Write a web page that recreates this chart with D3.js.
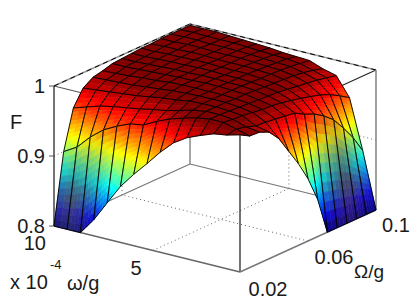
<!DOCTYPE html>
<html>
<head>
<meta charset="utf-8">
<script src="https://cdn.jsdelivr.net/npm/d3@7"></script>
<style>
  html, body { margin: 0; background: #fff; }
  svg { display: block; }
  text { font-family: "Liberation Sans", Arial, sans-serif; fill: #1a1a1a; }
</style>
</head>
<body>
<div id="chart"></div>
<script>
const WIDTH = 415, HEIGHT = 308;

// omega (x 10^-4) runs along rows, Omega along columns
const omegaGrid = [0.6, 1.27, 1.94, 2.61, 3.29, 3.96, 4.63, 5.3, 5.97, 6.64, 7.31, 7.99, 8.66, 9.33, 10];
const bigOmegaGrid = [0.02, 0.0257, 0.0314, 0.0371, 0.0429, 0.0486, 0.0543, 0.06, 0.0657, 0.0714, 0.0771, 0.0829, 0.0886, 0.0943, 0.1];
const fValues = [
  [.996, .988, .987, .981, .965, .941, .917, .889, .853, .800, .800, .800, .800, .800, .800],
  [.991, .993, .990, .985, .984, .982, .980, .978, .970, .964, .955, .943, .925, .905, .880],
  [.988, .998, .996, .995, .993, .991, .990, .988, .985, .982, .978, .974, .968, .960, .951],
  [.981, .998, .998, .997, .996, .995, .994, .993, .992, .990, .988, .986, .984, .981, .978],
  [.973, .995, .998, .998, .998, .997, .997, .996, .995, .994, .993, .992, .990, .987, .983],
  [.961, .990, .995, .998, .998, .998, .998, .998, .997, .996, .996, .995, .994, .992, .990],
  [.943, .984, .990, .997, .998, .998, .999, .998, .998, .998, .997, .996, .995, .994, .991],
  [.922, .976, .985, .994, .997, .998, .999, .999, .998, .998, .998, .997, .996, .995, .992],
  [.902, .966, .982, .992, .996, .998, .998, .999, .999, .998, .998, .998, .997, .996, .994],
  [.880, .963, .978, .989, .994, .997, .998, .998, .999, .999, .998, .998, .998, .997, .995],
  [.852, .955, .975, .986, .992, .995, .997, .998, .998, .999, .999, .998, .998, .998, .996],
  [.823, .945, .972, .984, .990, .994, .996, .997, .998, .998, .999, .999, .998, .998, .997],
  [.800, .930, .968, .982, .989, .992, .995, .996, .997, .998, .998, .999, .999, .998, .998],
  [.800, .911, .962, .980, .988, .991, .994, .995, .996, .997, .998, .998, .999, .999, .998],
  [.800, .900, .956, .978, .987, .990, .994, .995, .996, .997, .997, .998, .998, .998, .998]
];

const omegaTicks = [5, 10];
const bigOmegaTicks = [0.02, 0.06, 0.1];
const fTicks = [0.8, 0.9, 1];

// axes box: floor corner at the front plus one screen vector per axis
const x0 = 240, y0 = 272;
const omegaScale = d3.scaleLinear([0.6, 10], [0, 1]);
const bigOmegaScale = d3.scaleLinear([0.02, 0.1], [0, 1]);
const fScale = d3.scaleLinear([0.8, 1], [0, 140]);

function project(w, o, f) {
  const u = omegaScale(w), v = bigOmegaScale(o);
  return [x0 - 186 * u + 136 * v, y0 - 46 * u - 62 * v - fScale(f)];
}

// MATLAB style jet, 64 levels
function jet(t) {
  const k = Math.round(t * 63) / 63;
  const c = x => Math.round(255 * Math.max(0, Math.min(1, 1.5 - Math.abs(4 * k - x))));
  return [c(3), c(2), c(1)];
}
// top of the map is reached a little under F = 1
const colorScale = d3.scaleLinear([0.8, 0.994], [0, 1]).clamp(true);

// the two steep faces look greyed in the middle of the face
const bump = (d, c, r) => Math.max(0, 1 - Math.abs(d - c) / r);
function muted(i, j, a, b) {
  if (j === 0 && i >= 9) return [0.8 * bump(i + a, 12.9, 3) * bump(b, 0.35, 0.75), [85, 85, 75]];
  if (i === 0 && j >= 8) return [0.85 * bump(j + b, 11.4, 3.4) * bump(a, 0.4, 0.75), [85, 50, 70]];
  return [0, [0, 0, 0]];
}
function mixColor(rgb, m, to) {
  return `rgb(${rgb.map((d, n) => Math.round(d + (to[n] - d) * m)).join(',')})`;
}

const svg = d3.select('#chart').append('svg')
  .attr('width', WIDTH)
  .attr('height', HEIGHT);

const line = d3.line();
const W0 = 0.6, W1 = 10, O0 = 0.02, O1 = 0.1, F0 = 0.8, F1 = 1;

function seg(a, b, stroke, width, dash) {
  svg.append('path')
    .attr('d', line([project(...a), project(...b)]))
    .attr('fill', 'none')
    .attr('stroke', stroke)
    .attr('stroke-width', width)
    .attr('stroke-dasharray', dash || null);
}

// grid on the floor and the two back walls
const DOT = '1 3';
omegaTicks.filter(d => d < W1).forEach(d => {
  seg([d, O0, F0], [d, O1, F0], '#666', 1, DOT);
  seg([d, O1, F0], [d, O1, F1], '#666', 1, DOT);
});
bigOmegaTicks.filter(d => d > O0 && d < O1).forEach(d => {
  seg([W0, d, F0], [W1, d, F0], '#666', 1, DOT);
  seg([W1, d, F0], [W1, d, F1], '#666', 1, DOT);
});
fTicks.filter(d => d > F0 && d < F1).forEach(d => {
  seg([W1, O0, d], [W1, O1, d], '#666', 1, DOT);
  seg([W0, O1, d], [W1, O1, d], '#666', 1, DOT);
});

// box
seg([W1, O1, F0], [W1, O0, F0], '#777', 1.2);
seg([W1, O1, F0], [W0, O1, F0], '#777', 1.2);
seg([W1, O1, F0], [W1, O1, F1], '#888', 1.5);
seg([W1, O0, F1], [W0, O0, F1], '#555', 1.1);
seg([W0, O1, F1], [W0, O0, F1], '#222', 1.1);
seg([W1, O0, F1], [W1, O1, F1], '#999', 1.5);
seg([W0, O1, F1], [W1, O1, F1], '#999', 1.5);
seg([W1, O0, F1], [W1, O1, F1], '#000', 1, '5 4');
seg([W0, O1, F1], [W1, O1, F1], '#000', 1, '5 4');
seg([W1, O0, F0], [W1, O0, F1], '#000', 1.1);
seg([W0, O0, F0], [W0, O0, F1], '#000', 1.1);
seg([W0, O1, F0], [W0, O1, F1], '#888', 1.6);
seg([W1, O0, F0], [W0, O0, F0], '#666', 1.4);
seg([W0, O0, F0], [W0, O1, F0], '#777', 1.4);
fTicks.forEach(d => {
  const p = project(W1, O0, d);
  svg.append('path').attr('d', line([p, [p[0] - 5, p[1]]])).attr('stroke', '#555');
});

// surface, back to front; each cell is split so the colour follows F
const gSurface = svg.append('g');
const rows = omegaGrid.length, cols = bigOmegaGrid.length;

for (let i = rows - 2; i >= 0; i--) {
  for (let j = cols - 2; j >= 0; j--) {
    const z00 = fValues[i][j], z01 = fValues[i][j + 1], z10 = fValues[i + 1][j], z11 = fValues[i + 1][j + 1];
    const ni = Math.min(12, Math.max(1, Math.ceil(Math.max(Math.abs(z10 - z00), Math.abs(z11 - z01)) / 0.006)));
    const nj = Math.min(12, Math.max(1, Math.ceil(Math.max(Math.abs(z01 - z00), Math.abs(z11 - z10)) / 0.006)));
    const at = (a, b) => {
      const w = omegaGrid[i] + (omegaGrid[i + 1] - omegaGrid[i]) * a;
      const o = bigOmegaGrid[j] + (bigOmegaGrid[j + 1] - bigOmegaGrid[j]) * b;
      const f = (z00 * (1 - b) + z01 * b) * (1 - a) + (z10 * (1 - b) + z11 * b) * a;
      return { p: project(w, o, f), f };
    };
    for (let a = ni - 1; a >= 0; a--) {
      for (let b = nj - 1; b >= 0; b--) {
        const ac = (a + .5) / ni, bc = (b + .5) / nj;
        const [m, to] = muted(i, j, ac, bc);
        const col = mixColor(jet(colorScale(at(ac, bc).f)), m, to);
        gSurface.append('path')
          .attr('d', line([at(a / ni, b / nj).p, at(a / ni, (b + 1) / nj).p, at((a + 1) / ni, (b + 1) / nj).p, at((a + 1) / ni, b / nj).p]) + 'Z')
          .attr('fill', col)
          .attr('stroke', col)
          .attr('stroke-width', 0.6);
      }
    }
    // mesh lines of this cell go in the same layer so nearer cells hide them
    const q = [[i, j], [i, j + 1], [i + 1, j + 1], [i + 1, j]]
      .map(([r, c]) => project(omegaGrid[r], bigOmegaGrid[c], fValues[r][c]));
    gSurface.append('path')
      .attr('d', line(q) + 'Z')
      .attr('fill', 'none')
      .attr('stroke', '#000')
      .attr('stroke-width', 0.9);
  }
}

// labels
function label(txt, x, y, size, anchor) {
  return svg.append('text')
    .attr('x', x).attr('y', y)
    .attr('font-size', size)
    .attr('text-anchor', anchor || 'start')
    .attr('dominant-baseline', 'middle')
    .text(txt);
}
fTicks.forEach(d => {
  const p = project(W1, O0, d);
  label(d3.format('.2~f')(d), 45, p[1] + 2, 20, 'end');
});
label('10', 46, 245, 20, 'end');
label('5', 136, 270, 20, 'middle');
bigOmegaTicks.forEach((d, i) => {
  const pos = [[268, 291], [334, 259], [396, 227]][i];
  label(String(d), pos[0], pos[1], 20, 'middle');
});
label('F', 10, 124, 20);
label('x 10', 10, 284, 20);
label('-4', 50, 266, 13);
label('ω/g', 67, 285, 20);
label('Ω/g', 354, 273, 19);
</script>
</body>
</html>
